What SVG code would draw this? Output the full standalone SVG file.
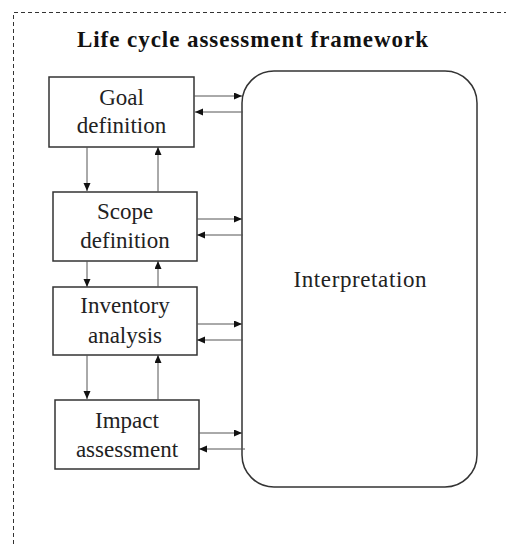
<svg xmlns="http://www.w3.org/2000/svg" width="506" height="544" viewBox="0 0 506 544">
<defs>
<marker id="ah" markerUnits="userSpaceOnUse" markerWidth="9" markerHeight="8" refX="8" refY="3.5" orient="auto">
<path d="M0,0 L8,3.5 L0,7 z" fill="#111"/>
</marker>
<style>
.box{fill:#fff;stroke:#333;stroke-width:1.5}
.lbl{font-family:"Liberation Serif","Times New Roman",serif;font-size:23px;fill:#222;text-anchor:middle}
.ttl{font-family:"Liberation Serif","Times New Roman",serif;font-size:23px;font-weight:bold;fill:#111;text-anchor:middle}
.cn{stroke:#555;stroke-width:1;fill:none;marker-end:url(#ah)}
.frame{stroke:#333;stroke-width:1;stroke-dasharray:4,3;fill:none}
</style>
</defs>
<rect width="506" height="544" fill="#fff"/>
<path class="frame" d="M13.5,544 V12.5 H506"/>
<text class="ttl" x="252.5" y="47" textLength="351" lengthAdjust="spacing">Life cycle assessment framework</text>

<g id="interpretation">
<rect class="box" x="242" y="71" width="235" height="416" rx="32" ry="32"/>
<text class="lbl" x="360" y="287" textLength="133" lengthAdjust="spacing">Interpretation</text>
</g>
<g id="goal">
<rect class="box" x="49" y="77" width="145" height="70"/>
<text class="lbl" x="121.5" y="105">Goal</text>
<text class="lbl" x="121.5" y="133">definition</text>
</g>
<g id="scope">
<rect class="box" x="53" y="192" width="144" height="69"/>
<text class="lbl" x="125" y="219">Scope</text>
<text class="lbl" x="125" y="248">definition</text>
</g>
<g id="inventory">
<rect class="box" x="53" y="287" width="144" height="68"/>
<text class="lbl" x="125" y="313">Inventory</text>
<text class="lbl" x="125" y="343">analysis</text>
</g>
<g id="impact">
<rect class="box" x="55" y="400" width="144" height="69"/>
<text class="lbl" x="127" y="428">Impact</text>
<text class="lbl" x="127" y="457">assessment</text>
</g>

<g id="connectors">
<line class="cn" x1="87" y1="147" x2="87" y2="191"/>
<line class="cn" x1="158" y1="192" x2="158" y2="147"/>
<line class="cn" x1="87" y1="261" x2="87" y2="287"/>
<line class="cn" x1="158" y1="287" x2="158" y2="261"/>
<line class="cn" x1="87" y1="355" x2="87" y2="399"/>
<line class="cn" x1="158" y1="400" x2="158" y2="355"/>

<line class="cn" x1="194" y1="96" x2="242" y2="96"/>
<line class="cn" x1="243" y1="112" x2="195" y2="112"/>
<line class="cn" x1="197" y1="219" x2="242" y2="219"/>
<line class="cn" x1="243" y1="235" x2="197" y2="235"/>
<line class="cn" x1="197" y1="324" x2="242" y2="324"/>
<line class="cn" x1="243" y1="340" x2="197" y2="340"/>
<line class="cn" x1="199" y1="433" x2="242" y2="433"/>
<line class="cn" x1="245" y1="449" x2="199" y2="449"/>
</g>
</svg>
